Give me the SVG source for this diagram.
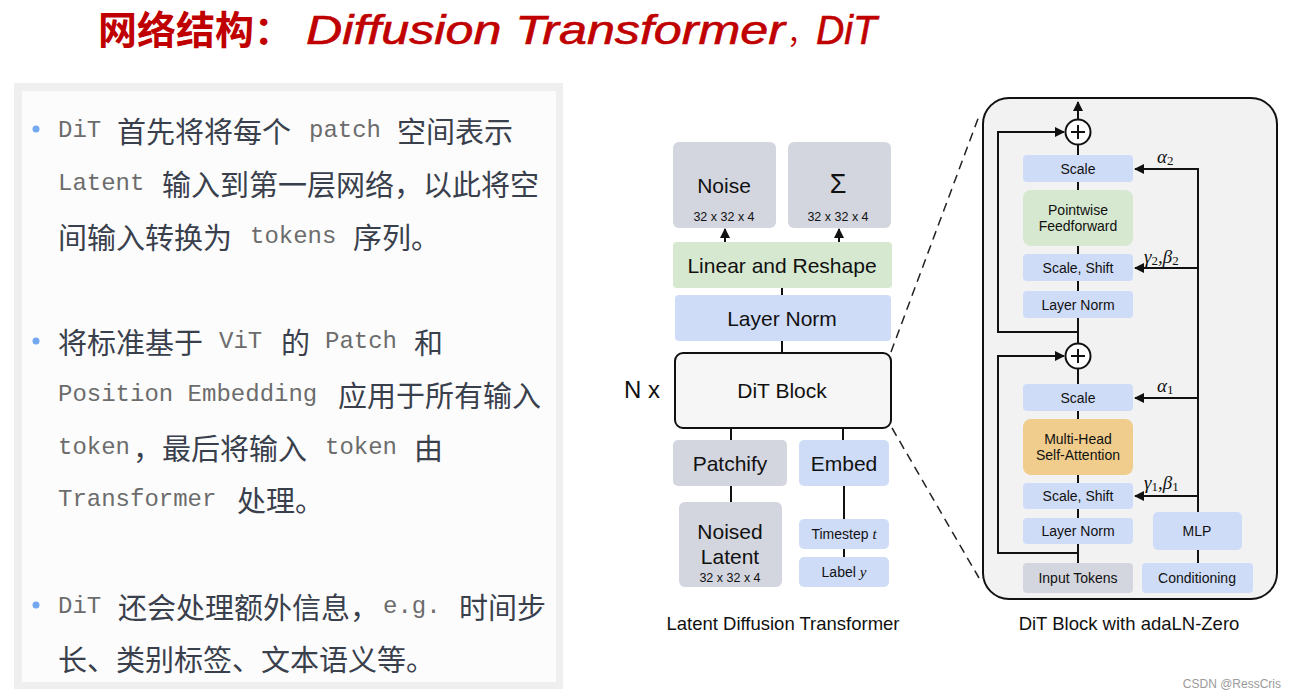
<svg xmlns="http://www.w3.org/2000/svg" width="1295" height="699" viewBox="0 0 1295 699">
<style>
.cjk{font-family:"Noto Sans CJK SC","Noto Sans",sans-serif;font-size:29px;fill:#3a3f4c;dominant-baseline:central}
.mono{font-family:"Liberation Mono","DejaVu Sans Mono",monospace;font-size:24px;fill:#6c6c6c;dominant-baseline:central}
.lbl{font-family:"Liberation Sans",Arial,sans-serif;fill:#111;text-anchor:middle;dominant-baseline:central}
.big{font-size:21px}
.sm{font-size:14px}
.xs{font-size:12.5px}
.cap{font-size:18.5px}
.grey{fill:#d4d6df}
.blue{fill:#cfdcf8}
.green{fill:#d6e8cf}
.orange{fill:#f0cd8c}
.ln{stroke:#111;stroke-width:2;fill:none}
.math{font-family:"Liberation Serif","DejaVu Serif",serif;font-style:italic;font-size:19px;fill:#111;dominant-baseline:central}
.sub{font-style:normal;font-size:13px}
.tl{font-family:"Liberation Sans",Arial,sans-serif;font-style:italic;font-size:40px;fill:#c00000;stroke:#c00000;stroke-width:0.6}
</style>
<defs>
<marker id="ah" viewBox="0 0 10 10" refX="9" refY="5" markerWidth="5" markerHeight="5" orient="auto" markerUnits="strokeWidth">
<path d="M0,0 L10,5 L0,10 z" fill="#111"/>
</marker>
</defs>
<rect width="1295" height="699" fill="#ffffff"/>

<g id="title">
<text x="98" y="44" font-family="Noto Sans CJK SC,sans-serif" font-weight="bold" font-size="39" fill="#c00000">网络结构：</text>
<text class="tl" x="306" y="44" textLength="479" lengthAdjust="spacingAndGlyphs">Diffusion Transformer</text>
<text x="787" y="44" font-family="Noto Sans CJK SC,sans-serif" font-size="28" fill="#c00000">，</text>
<text class="tl" x="816" y="44" textLength="61" lengthAdjust="spacingAndGlyphs">DiT</text>
</g>

<g id="panel">
<rect x="14" y="83" width="549" height="606" fill="#efefef"/>
<rect x="22" y="91" width="534" height="591" fill="#fcfcfc"/>
<circle cx="36" cy="129" r="3.5" fill="#74a9f2"/>
<circle cx="36" cy="341" r="3.5" fill="#74a9f2"/>
<circle cx="36" cy="605" r="3.5" fill="#74a9f2"/>
<text class="mono" x="58" y="130">DiT</text>
<text class="cjk" x="117" y="130">首先将将每个</text>
<text class="mono" x="309" y="130">patch</text>
<text class="cjk" x="397" y="130">空间表示</text>
<text class="mono" x="58" y="183">Latent</text>
<text class="cjk" x="162" y="183">输入到第一层网络，以此将空</text>
<text class="cjk" x="58" y="236">间输入转换为</text>
<text class="mono" x="250" y="236">tokens</text>
<text class="cjk" x="353" y="236">序列。</text>

<text class="cjk" x="58" y="341">将标准基于</text>
<text class="mono" x="219" y="341">ViT</text>
<text class="cjk" x="281" y="341">的</text>
<text class="mono" x="325" y="341">Patch</text>
<text class="cjk" x="414" y="341">和</text>
<text class="mono" x="58" y="394">Position Embedding</text>
<text class="cjk" x="338" y="394">应用于所有输入</text>
<text class="mono" x="58" y="447">token</text>
<text class="cjk" x="133" y="447">，最后将输入</text>
<text class="mono" x="325" y="447">token</text>
<text class="cjk" x="414" y="447">由</text>
<text class="mono" x="58" y="499">Transformer</text>
<text class="cjk" x="237" y="499">处理。</text>

<text class="mono" x="58" y="606">DiT</text>
<text class="cjk" x="118" y="606">还会处理额外信息，</text>
<text class="mono" x="383" y="606">e.g.</text>
<text class="cjk" x="459" y="606">时间步</text>
<text class="cjk" x="58" y="658">长、类别标签、文本语义等。</text>
</g>

<g id="connectors">
<line class="ln" x1="725" y1="242" x2="725" y2="229" marker-end="url(#ah)"/>
<line class="ln" x1="839" y1="242" x2="839" y2="229" marker-end="url(#ah)"/>
<line class="ln" x1="782" y1="288" x2="782" y2="295"/>
<line class="ln" x1="782" y1="341" x2="782" y2="353"/>
<line class="ln" x1="731" y1="428" x2="731" y2="440"/>
<line class="ln" x1="843" y1="428" x2="843" y2="440"/>
<line class="ln" x1="731" y1="486" x2="731" y2="502"/>
<line class="ln" x1="844" y1="486" x2="844" y2="519"/>
<line class="ln" x1="844" y1="549" x2="844" y2="557"/>
<line x1="891" y1="352" x2="979" y2="116" stroke="#222" stroke-width="1.5" stroke-dasharray="9,6"/>
<line x1="892" y1="428" x2="979" y2="578" stroke="#222" stroke-width="1.5" stroke-dasharray="9,6"/>
</g>

<g id="noise"><rect class="grey" x="673" y="142" width="103" height="86" rx="6"/>
<text class="lbl big" x="724" y="185">Noise</text><text class="lbl xs" x="724" y="217">32 x 32 x 4</text></g>
<g id="sigma"><rect class="grey" x="788" y="142" width="103" height="86" rx="6"/>
<text class="lbl" x="838" y="184" font-size="27" font-family="DejaVu Sans,sans-serif">Σ</text><text class="lbl xs" x="838" y="217">32 x 32 x 4</text></g>
<g id="linear"><rect class="green" x="673" y="242" width="219" height="46" rx="4"/>
<text class="lbl big" x="782" y="265">Linear and Reshape</text></g>
<g id="layernorm"><rect class="blue" x="675" y="295" width="216" height="46" rx="4"/>
<text class="lbl big" x="782" y="318">Layer Norm</text></g>
<g id="ditblock"><rect x="675" y="353" width="216" height="75" rx="8" fill="#f6f6f6" stroke="#111" stroke-width="2"/>
<text class="lbl big" x="782" y="390">DiT Block</text></g>
<g id="nx"><text class="lbl" x="642" y="389" font-size="24">N x</text></g>
<g id="patchify"><rect class="grey" x="673" y="440" width="114" height="46" rx="5"/>
<text class="lbl big" x="730" y="463">Patchify</text></g>
<g id="embed"><rect class="blue" x="799" y="440" width="90" height="46" rx="5"/>
<text class="lbl big" x="844" y="463">Embed</text></g>
<g id="noised"><rect class="grey" x="679" y="502" width="103" height="85" rx="6"/>
<text class="lbl big" x="730" y="531">Noised</text><text class="lbl big" x="730" y="556">Latent</text><text class="lbl xs" x="730" y="578">32 x 32 x 4</text></g>
<g id="timestep"><rect class="blue" x="799" y="519" width="90" height="30" rx="5"/>
<text class="lbl sm" x="844" y="534">Timestep <tspan font-family="Liberation Serif,serif" font-style="italic" font-size="15">t</tspan></text></g>
<g id="label"><rect class="blue" x="799" y="557" width="90" height="30" rx="5"/>
<text class="lbl sm" x="844" y="572">Label <tspan font-family="Liberation Serif,serif" font-style="italic" font-size="15">y</tspan></text></g>
<g id="cap1"><text class="lbl cap" x="783" y="623">Latent Diffusion Transformer</text></g>

<g id="adaln-frame"><rect x="983" y="98" width="294" height="501" rx="26" fill="#f2f2f2" stroke="#111" stroke-width="2"/></g>

<g id="connectors-right">
<line class="ln" x1="1078" y1="120" x2="1078" y2="102" marker-end="url(#ah)"/>
<path class="ln" d="M1078,332 H998 V132 H1064" marker-end="url(#ah)"/>
<line class="ln" x1="1078" y1="145" x2="1078" y2="155"/>
<line class="ln" x1="1078" y1="182" x2="1078" y2="190"/>
<line class="ln" x1="1078" y1="246" x2="1078" y2="254"/>
<line class="ln" x1="1078" y1="281" x2="1078" y2="291"/>
<line class="ln" x1="1078" y1="318" x2="1078" y2="344"/>
<path class="ln" d="M1078,553 H998 V356 H1064" marker-end="url(#ah)"/>
<line class="ln" x1="1078" y1="368" x2="1078" y2="384"/>
<line class="ln" x1="1078" y1="411" x2="1078" y2="419"/>
<line class="ln" x1="1078" y1="475" x2="1078" y2="483"/>
<line class="ln" x1="1078" y1="509" x2="1078" y2="518"/>
<line class="ln" x1="1078" y1="544" x2="1078" y2="563"/>
<path class="ln" d="M1198,512 V169 H1135" marker-end="url(#ah)"/>
<line class="ln" x1="1198" y1="268" x2="1135" y2="268" marker-end="url(#ah)"/>
<line class="ln" x1="1198" y1="398" x2="1135" y2="398" marker-end="url(#ah)"/>
<line class="ln" x1="1198" y1="496" x2="1135" y2="496" marker-end="url(#ah)"/>
<line class="ln" x1="1198" y1="550" x2="1198" y2="563"/>
</g>

<g id="plus1"><circle cx="1078" cy="132" r="12.5" fill="#fff" stroke="#111" stroke-width="2"/>
<path class="ln" d="M1071,132 H1085 M1078,125 V139"/></g>
<g id="plus2"><circle cx="1078" cy="356" r="12.5" fill="#fff" stroke="#111" stroke-width="2"/>
<path class="ln" d="M1071,356 H1085 M1078,349 V363"/></g>

<g id="scale2"><rect class="blue" x="1023" y="155" width="110" height="27" rx="4"/><text class="lbl sm" x="1078" y="168.5">Scale</text></g>
<g id="ffn"><rect class="green" x="1023" y="190" width="110" height="56" rx="8"/><text class="lbl sm" x="1078" y="210">Pointwise</text><text class="lbl sm" x="1078" y="226">Feedforward</text></g>
<g id="scaleshift2"><rect class="blue" x="1023" y="254" width="110" height="27" rx="4"/><text class="lbl sm" x="1078" y="267.5">Scale, Shift</text></g>
<g id="ln2"><rect class="blue" x="1023" y="291" width="110" height="27" rx="4"/><text class="lbl sm" x="1078" y="304.5">Layer Norm</text></g>
<g id="scale1"><rect class="blue" x="1023" y="384" width="110" height="27" rx="4"/><text class="lbl sm" x="1078" y="397.5">Scale</text></g>
<g id="mhsa"><rect class="orange" x="1023" y="419" width="110" height="56" rx="8"/><text class="lbl sm" x="1078" y="439">Multi-Head</text><text class="lbl sm" x="1078" y="455">Self-Attention</text></g>
<g id="scaleshift1"><rect class="blue" x="1023" y="483" width="110" height="26" rx="4"/><text class="lbl sm" x="1078" y="496">Scale, Shift</text></g>
<g id="ln1"><rect class="blue" x="1023" y="518" width="110" height="26" rx="4"/><text class="lbl sm" x="1078" y="531">Layer Norm</text></g>
<g id="input"><rect class="grey" x="1023" y="563" width="110" height="30" rx="4"/><text class="lbl sm" x="1078" y="578">Input Tokens</text></g>
<g id="mlp"><rect class="blue" x="1153" y="512" width="89" height="38" rx="5"/><text class="lbl sm" x="1197" y="531">MLP</text></g>
<g id="cond"><rect class="blue" x="1142" y="563" width="111" height="30" rx="4"/><text class="lbl sm" x="1197" y="578">Conditioning</text></g>

<g id="alpha2"><text class="math" x="1157" y="156">α<tspan class="sub" dy="4">2</tspan></text></g>
<g id="gb2"><text class="math" x="1144" y="256">γ<tspan class="sub" dy="4">2</tspan><tspan dy="-4">,β</tspan><tspan class="sub" dy="4">2</tspan></text></g>
<g id="alpha1"><text class="math" x="1157" y="385">α<tspan class="sub" dy="4">1</tspan></text></g>
<g id="gb1"><text class="math" x="1144" y="482">γ<tspan class="sub" dy="4">1</tspan><tspan dy="-4">,β</tspan><tspan class="sub" dy="4">1</tspan></text></g>
<g id="cap2"><text class="lbl cap" x="1129" y="623">DiT Block with adaLN-Zero</text></g>

<g id="watermark"><text x="1281" y="684" font-family="Liberation Sans,Arial,sans-serif" font-size="12" fill="#9a9a9a" text-anchor="end" dominant-baseline="central">CSDN @RessCris</text></g>
</svg>
